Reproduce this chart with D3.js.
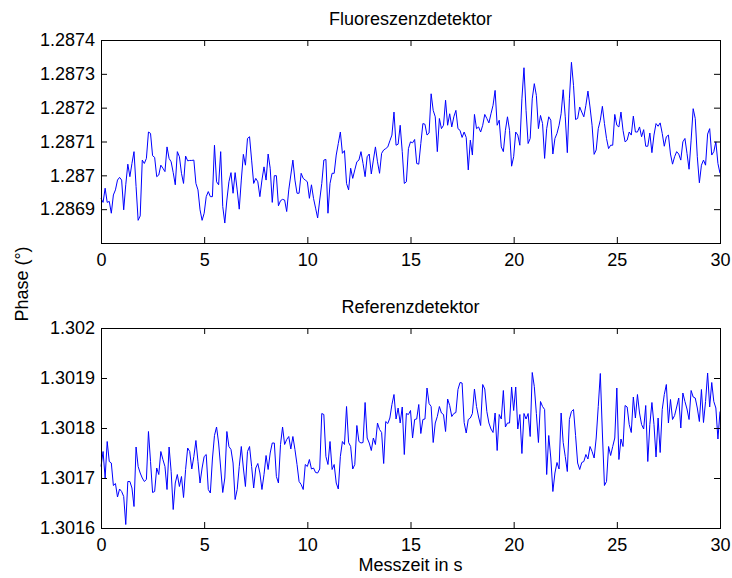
<!DOCTYPE html>
<html>
<head>
<meta charset="utf-8">
<script src="https://cdnjs.cloudflare.com/ajax/libs/d3/7.8.5/d3.min.js"></script>
<style>
  body { margin: 0; background: #fff; }
  svg { display: block; font-family: "Liberation Sans", Arial, Helvetica, sans-serif; }
</style>
</head>
<body>
<svg id="chart" width="732" height="578"></svg>
<script>
// sampling interval of the measurement (s)
const sampleStep = 0.1

const xTicks = [0, 5, 10, 15, 20, 25, 30]
const fluorTicks = [1.2869, 1.287, 1.2871, 1.2872, 1.2873, 1.2874]
const refTicks = [1.3016, 1.3017, 1.3018, 1.3019, 1.302]

// Fluoreszenzdetektor, phase in degrees, one value per 0.1 s
const fluorescence = [
  1.286932, 1.286920, 1.286962, 1.286920, 1.286923, 1.286888, 1.286942, 1.286957, 1.286986, 1.286994,
  1.286986, 1.286898, 1.286972, 1.287033, 1.286996, 1.287035, 1.287070, 1.286967, 1.286867, 1.286880,
  1.287045, 1.287035, 1.287050, 1.287128, 1.287124, 1.287058, 1.287053, 1.286996, 1.287001, 1.287030,
  1.287021, 1.287011, 1.287084, 1.287050, 1.287040, 1.287008, 1.286972, 1.287070, 1.287055, 1.287006,
  1.286976, 1.287057, 1.287043, 1.287044, 1.287044, 1.287045, 1.286976, 1.286957, 1.286898, 1.286867,
  1.286888, 1.286937, 1.286952, 1.286937, 1.286937, 1.287089, 1.286981, 1.286972, 1.287070, 1.286908,
  1.286859, 1.286927, 1.286981, 1.287008, 1.286947, 1.287008, 1.286957, 1.286900, 1.286986, 1.287062,
  1.287030, 1.287109, 1.287114, 1.287045, 1.286976, 1.286991, 1.286981, 1.286937, 1.286986, 1.287025,
  1.286986, 1.287063, 1.287021, 1.286920, 1.286999, 1.286999, 1.286910, 1.286925, 1.286929, 1.286927,
  1.286893, 1.286957, 1.287001, 1.287045, 1.286986, 1.286947, 1.286947, 1.287006, 1.286991, 1.286986,
  1.286981, 1.286932, 1.286972, 1.286932, 1.286903, 1.286874, 1.286927, 1.286976, 1.287045, 1.287047,
  1.286888, 1.286976, 1.287006, 1.287006, 1.287060, 1.287094, 1.287128, 1.287065, 1.287073, 1.286976,
  1.286957, 1.287021, 1.286991, 1.287016, 1.287040, 1.287045, 1.287070, 1.287035, 1.286996, 1.287055,
  1.287063, 1.287004, 1.287045, 1.287084, 1.287040, 1.287006, 1.287065, 1.287075, 1.287079, 1.287084,
  1.287102, 1.287119, 1.287187, 1.287089, 1.287092, 1.287148, 1.287070, 1.286976, 1.286981, 1.287079,
  1.287099, 1.287096, 1.287106, 1.287035, 1.287033, 1.287094, 1.287153, 1.287151, 1.287119, 1.287125,
  1.287241, 1.287192, 1.287173, 1.287070, 1.287168, 1.287138, 1.287148, 1.287222, 1.287148, 1.287182,
  1.287143, 1.287173, 1.287192, 1.287138, 1.287133, 1.287112, 1.287128, 1.287112, 1.287016, 1.287104,
  1.287060, 1.287180, 1.287138, 1.287143, 1.287128, 1.287148, 1.287180, 1.287168, 1.287155, 1.287182,
  1.287207, 1.287251, 1.287148, 1.287163, 1.287084, 1.287070, 1.287133, 1.287173, 1.287133, 1.287027,
  1.287055, 1.287128, 1.287119, 1.287089, 1.287226, 1.287318, 1.287192, 1.287094, 1.287109, 1.287226,
  1.287271, 1.287236, 1.287138, 1.287177, 1.287153, 1.287050, 1.287138, 1.287173, 1.287163, 1.287063,
  1.287109, 1.287124, 1.287148, 1.287182, 1.287253, 1.287173, 1.287067, 1.287226, 1.287334, 1.287266,
  1.287165, 1.287168, 1.287202, 1.287187, 1.287173, 1.287207, 1.287249, 1.287202, 1.287148, 1.287062,
  1.287075, 1.287138, 1.287163, 1.287204, 1.287153, 1.287109, 1.287079, 1.287089, 1.287089, 1.287180,
  1.287148, 1.287143, 1.287187, 1.287133, 1.287099, 1.287104, 1.287128, 1.287119, 1.287175, 1.287128,
  1.287128, 1.287143, 1.287114, 1.287135, 1.287086, 1.287086, 1.287125, 1.287067, 1.287119, 1.287153,
  1.287145, 1.287155, 1.287124, 1.287086, 1.287114, 1.287119, 1.287063, 1.287033, 1.287055, 1.287070,
  1.287063, 1.287045, 1.287099, 1.287109, 1.287065, 1.287018, 1.287104, 1.287197, 1.287168, 1.287055,
  1.286978, 1.287030, 1.287045, 1.287030, 1.287122, 1.287138, 1.287060, 1.287070, 1.287099, 1.287035,
  1.287006
]

// Referenzdetektor, phase in degrees, one value per 0.1 s
const reference = [
  1.301723, 1.301753, 1.301700, 1.301773, 1.301733, 1.301730, 1.301685, 1.301689, 1.301662, 1.301678,
  1.301673, 1.301663, 1.301607, 1.301693, 1.301693, 1.301680, 1.301643, 1.301762, 1.301723, 1.301710,
  1.301700, 1.301693, 1.301697, 1.301793, 1.301733, 1.301671, 1.301673, 1.301720, 1.301707, 1.301753,
  1.301737, 1.301723, 1.301677, 1.301762, 1.301713, 1.301637, 1.301690, 1.301707, 1.301683, 1.301703,
  1.301661, 1.301717, 1.301760, 1.301753, 1.301718, 1.301743, 1.301775, 1.301733, 1.301690, 1.301720,
  1.301743, 1.301747, 1.301677, 1.301670, 1.301738, 1.301785, 1.301802, 1.301770, 1.301720, 1.301671,
  1.301700, 1.301793, 1.301763, 1.301757, 1.301730, 1.301657, 1.301677, 1.301723, 1.301763, 1.301720,
  1.301683, 1.301753, 1.301763, 1.301723, 1.301680, 1.301720, 1.301729, 1.301710, 1.301677, 1.301707,
  1.301745, 1.301717, 1.301750, 1.301770, 1.301770, 1.301703, 1.301690, 1.301767, 1.301802, 1.301767,
  1.301777, 1.301783, 1.301758, 1.301783, 1.301757, 1.301727, 1.301693, 1.301687, 1.301677, 1.301727,
  1.301723, 1.301737, 1.301718, 1.301720, 1.301711, 1.301710, 1.301718, 1.301829, 1.301827, 1.301743,
  1.301727, 1.301773, 1.301717, 1.301727, 1.301690, 1.301678, 1.301743, 1.301773, 1.301767, 1.301843,
  1.301771, 1.301763, 1.301718, 1.301727, 1.301805, 1.301773, 1.301770, 1.301771, 1.301851, 1.301780,
  1.301770, 1.301755, 1.301780, 1.301767, 1.301810, 1.301797, 1.301791, 1.301729, 1.301813, 1.301809,
  1.301820, 1.301847, 1.301867, 1.301818, 1.301840, 1.301810, 1.301842, 1.301747, 1.301829, 1.301827,
  1.301835, 1.301780, 1.301817, 1.301818, 1.301847, 1.301789, 1.301817, 1.301818, 1.301880, 1.301849,
  1.301843, 1.301771, 1.301810, 1.301823, 1.301843, 1.301830, 1.301827, 1.301793, 1.301858, 1.301845,
  1.301823, 1.301829, 1.301831, 1.301877, 1.301891, 1.301890, 1.301811, 1.301790, 1.301817, 1.301820,
  1.301829, 1.301878, 1.301843, 1.301822, 1.301805, 1.301887, 1.301878, 1.301833, 1.301810, 1.301798,
  1.301791, 1.301830, 1.301755, 1.301827, 1.301818, 1.301875, 1.301802, 1.301810, 1.301810, 1.301882,
  1.301835, 1.301882, 1.301798, 1.301827, 1.301749, 1.301829, 1.301818, 1.301829, 1.301783, 1.301911,
  1.301883, 1.301829, 1.301771, 1.301853, 1.301843, 1.301837, 1.301707, 1.301785, 1.301740, 1.301673,
  1.301710, 1.301731, 1.301718, 1.301830, 1.301771, 1.301743, 1.301713, 1.301817, 1.301833, 1.301837,
  1.301785, 1.301730, 1.301717, 1.301731, 1.301733, 1.301747, 1.301738, 1.301763, 1.301753, 1.301740,
  1.301780, 1.301843, 1.301909, 1.301790, 1.301685, 1.301693, 1.301763, 1.301745, 1.301763, 1.301780,
  1.301880, 1.301737, 1.301778, 1.301763, 1.301845, 1.301842, 1.301807, 1.301791, 1.301862, 1.301820,
  1.301867, 1.301830, 1.301807, 1.301798, 1.301845, 1.301733, 1.301807, 1.301851, 1.301807, 1.301742,
  1.301820, 1.301751, 1.301837, 1.301867, 1.301887, 1.301810, 1.301857, 1.301817, 1.301825, 1.301842,
  1.301860, 1.301800, 1.301870, 1.301853, 1.301838, 1.301817, 1.301875, 1.301862, 1.301860, 1.301840,
  1.301813, 1.301877, 1.301811, 1.301853, 1.301910, 1.301842, 1.301891, 1.301853, 1.301840, 1.301778,
  1.301833
]

const panels = [
  { title: 'Fluoreszenzdetektor', values: fluorescence, domain: [1.2868, 1.2874], ticks: fluorTicks, top: 40, bottom: 243 },
  { title: 'Referenzdetektor', values: reference, domain: [1.3016, 1.302], ticks: refTicks, top: 328, bottom: 528 }
]

const left = 101
const right = 720
const fontSize = 18
const tickLen = 6

const svg = d3.select('#chart')

svg.append('rect').attr('width', 732).attr('height', 578).attr('fill', '#fff')

const xScale = d3.scaleLinear().domain([0, 30]).range([left, right])
const fmt = d => String(+d.toFixed(4))

panels.forEach(panel => {
  const yScale = d3.scaleLinear().domain(panel.domain).range([panel.bottom, panel.top])
  const g = svg.append('g')

  const line = d3.line()
    .x((d, i) => xScale(i * sampleStep))
    .y(d => yScale(d))

  g.append('path')
    .datum(panel.values)
    .attr('d', line)
    .attr('fill', 'none')
    .attr('stroke', '#0000ff')
    .attr('stroke-width', 1)

  // bottom axis with labels, top axis with ticks only
  g.append('g')
    .attr('transform', `translate(0,${panel.bottom})`)
    .call(d3.axisBottom(xScale).tickValues(xTicks).tickSizeInner(-tickLen).tickSizeOuter(0).tickPadding(10))
  g.append('g')
    .attr('transform', `translate(0,${panel.top})`)
    .call(d3.axisTop(xScale).tickValues(xTicks).tickSizeInner(-tickLen).tickSizeOuter(0).tickFormat(''))

  // left axis with labels, right axis with ticks only
  g.append('g')
    .attr('transform', `translate(${left},0)`)
    .call(d3.axisLeft(yScale).tickValues(panel.ticks).tickFormat(fmt).tickSizeInner(-tickLen).tickSizeOuter(0).tickPadding(6))
  g.append('g')
    .attr('transform', `translate(${right},0)`)
    .call(d3.axisRight(yScale).tickValues(panel.ticks).tickSizeInner(-tickLen).tickSizeOuter(0).tickFormat(''))

  g.selectAll('.domain').remove()
  g.selectAll('.tick line').attr('stroke', '#000')
  g.selectAll('.tick text')
    .attr('fill', '#000')
    .attr('font-size', fontSize)
    .attr('font-family', '"Liberation Sans", Arial, Helvetica, sans-serif')

  // axes box, offset half a pixel so the 1px lines stay crisp
  g.append('rect')
    .attr('x', left + 0.5)
    .attr('y', panel.top + 0.5)
    .attr('width', right - left)
    .attr('height', panel.bottom - panel.top)
    .attr('fill', 'none')
    .attr('stroke', '#000')
    .attr('stroke-width', 1)

  g.append('text')
    .attr('x', (left + right) / 2)
    .attr('y', panel.top - 15)
    .attr('text-anchor', 'middle')
    .attr('font-size', fontSize)
    .text(panel.title)
})

svg.append('text')
  .attr('x', (left + right) / 2)
  .attr('y', 571)
  .attr('text-anchor', 'middle')
  .attr('font-size', fontSize)
  .text('Messzeit in s')

svg.append('text')
  .attr('transform', `translate(28,${(panels[0].top + panels[1].bottom) / 2}) rotate(-90)`)
  .attr('text-anchor', 'middle')
  .attr('font-size', fontSize)
  .text('Phase (°)')
</script>
</body>
</html>
